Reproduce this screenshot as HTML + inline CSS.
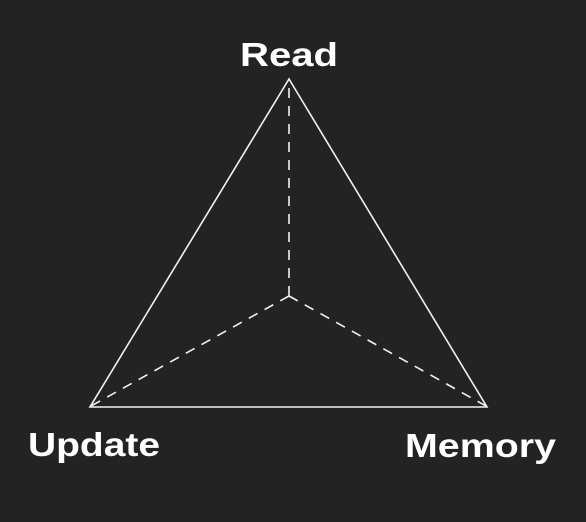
<!DOCTYPE html>
<html><head><meta charset="utf-8"><style>
html,body{margin:0;padding:0;background:#232323;}
svg{display:block}
text{font-family:"Liberation Sans",sans-serif;fill:#fff;font-size:33px;font-weight:bold}
</style></head><body>
<svg width="586" height="522" viewBox="0 0 586 522">
<rect width="586" height="522" fill="#232323"/>
<polygon points="289,79 90,407 487,407" fill="none" stroke="#f2f2f2" stroke-width="1.6"/>
<g stroke="#f2f2f2" stroke-width="1.6" stroke-dasharray="10,8" fill="none">
<line x1="289" y1="296" x2="289" y2="80"/>
<line x1="289" y1="296" x2="91" y2="406"/>
<line x1="289" y1="296" x2="486" y2="406"/>
</g>
<text x="240" y="66" textLength="98" lengthAdjust="spacingAndGlyphs">Read</text>
<text x="28" y="456" textLength="132" lengthAdjust="spacingAndGlyphs">Update</text>
<text x="405" y="457" textLength="151" lengthAdjust="spacingAndGlyphs">Memory</text>
</svg>
</body></html>
